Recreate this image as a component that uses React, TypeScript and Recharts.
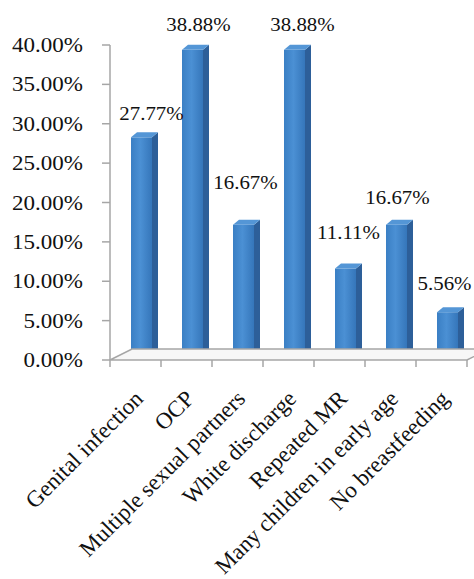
import { Bar, BarChart, LabelList, ReferenceLine, XAxis, YAxis } from "recharts";

const CATEGORIES = [
  "Genital infection",
  "OCP",
  "Multiple sexual partners",
  "White discharge",
  "Repeated MR",
  "Many children in early age",
  "No breastfeeding",
];
const PERCENTS = [27.77, 38.88, 16.67, 38.88, 11.11, 16.67, 5.56];
const Y_TICKS = [0, 5, 10, 15, 20, 25, 30, 35, 40];

// the value labels were placed by hand in the original, so each one gets a nudge
const LABEL_NUDGE_X = [10, 6, 2, 8, 3, 1, -3];
const LABEL_LIFT = [28, 29, 46, 29, 40, 31, 33];

const FONT = '"Liberation Serif", "Times New Roman", serif';
const DEPTH_X = 6;
const DEPTH_Y = 5;
const SHIFT = 6;

const chartData = CATEGORIES.map((name, i) => ({ name, value: PERCENTS[i] }));

function Bar3D(props: any) {
  const { x, y, width, height } = props;
  const left = x + SHIFT;
  const right = left + width;
  const top = y - 4;
  const bottom = y + height - 3;
  return (
    <g>
      <rect x={left} y={top} width={width} height={bottom - top} fill="url(#barFront)" />
      <polygon
        points={`${right},${top} ${right + DEPTH_X},${top - DEPTH_Y} ${right + DEPTH_X},${bottom - DEPTH_Y} ${right},${bottom}`}
        fill="#2d5f99"
      />
      <polygon
        points={`${left},${top} ${left + DEPTH_X},${top - DEPTH_Y} ${right + DEPTH_X},${top - DEPTH_Y} ${right},${top}`}
        fill="#5496d6"
      />
    </g>
  );
}

function Floor(props: any) {
  const { x1, y1, x2 } = props;
  const dx = 22;
  const dy = 11;
  const step = (x2 - x1) / CATEGORIES.length;
  return (
    <g>
      <polygon
        points={`${x1},${y1} ${x1 + dx},${y1 - dy} ${x2 + dx},${y1 - dy} ${x2},${y1}`}
        fill="#f7f7f7"
        stroke="#a6a6a6"
        strokeWidth={1.5}
      />
      {CATEGORIES.map((c, i) => (
        <line
          key={c}
          x1={x1 + step * (i + 1)}
          x2={x1 + step * (i + 1)}
          y1={y1}
          y2={y1 + 7}
          stroke="#a6a6a6"
          strokeWidth={1.5}
        />
      ))}
      <line x1={x1} x2={x1} y1={y1} y2={y1 + 7} stroke="#a6a6a6" strokeWidth={1.5} />
    </g>
  );
}

function YTick({ x, y, payload }: any) {
  return (
    <text
      transform={`translate(${x},${y}) scale(1.15,1)`}
      textAnchor="end"
      dy="0.35em"
      fontSize={20}
      fontFamily={FONT}
      fill="#111"
    >
      {`${Number(payload.value).toFixed(2)}%`}
    </text>
  );
}

function XTick({ x, y, payload }: any) {
  return (
    <g transform={`translate(${x + 9},${y + 40})`}>
      <text transform="rotate(-45)" textAnchor="end" fontSize={23} fontFamily={FONT} fill="#111">
        {payload.value}
      </text>
    </g>
  );
}

function ValueLabel(props: any) {
  const { x, y, width, value, index } = props;
  const cx = x + width / 2 + SHIFT + (LABEL_NUDGE_X[index] ?? 5);
  const cy = y - (LABEL_LIFT[index] ?? 30);
  return (
    <text
      transform={`translate(${cx},${cy}) scale(1.1,1)`}
      textAnchor="middle"
      dy="0.35em"
      fontSize={19}
      fontFamily={FONT}
      fill="#111"
    >
      {`${Number(value).toFixed(2)}%`}
    </text>
  );
}

export default function App() {
  return (
    <div style={{ position: "absolute", left: 0, top: 0, background: "#fff" }}>
      <BarChart
        width={474}
        height={579}
        data={chartData}
        margin={{ top: 45, right: 7, bottom: 0, left: 0 }}
        barCategoryGap={0}
      >
        <defs>
          <linearGradient id="barFront" x1="0" y1="0" x2="1" y2="0">
            <stop offset="0%" stopColor="#3a7fc4" />
            <stop offset="45%" stopColor="#4b90d4" />
            <stop offset="100%" stopColor="#3576ba" />
          </linearGradient>
        </defs>
        <YAxis
          type="number"
          domain={[0, 40]}
          ticks={Y_TICKS}
          width={110}
          tickSize={8}
          tickMargin={19}
          stroke="#a6a6a6"
          axisLine={{ stroke: "#a6a6a6", strokeWidth: 1.5 }}
          tickLine={{ stroke: "#a6a6a6", strokeWidth: 1.5 }}
          tick={<YTick />}
          interval={0}
        />
        <XAxis
          dataKey="name"
          height={219}
          interval={0}
          axisLine={false}
          tickLine={false}
          tickSize={0}
          tickMargin={0}
          tick={<XTick />}
        />
        <ReferenceLine y={0} shape={<Floor />} />
        <Bar dataKey="value" barSize={21} shape={<Bar3D />} isAnimationActive={false}>
          <LabelList dataKey="value" content={<ValueLabel />} />
        </Bar>
      </BarChart>
    </div>
  );
}
